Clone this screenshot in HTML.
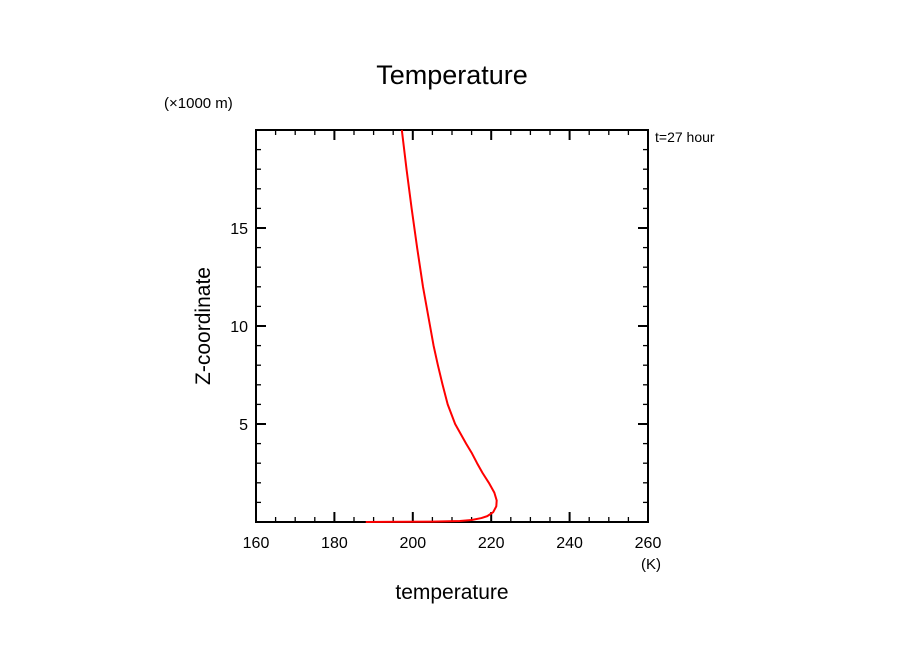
<!DOCTYPE html>
<html><head><meta charset="utf-8"><style>
html,body{margin:0;padding:0;background:#fff;}
svg{display:block;font-family:"Liberation Sans","DejaVu Sans",sans-serif;}
</style></head><body>
<svg id="chart" width="904" height="654" viewBox="0 0 904 654" xmlns="http://www.w3.org/2000/svg">
<text x="452" y="84" text-anchor="middle" font-size="27">Temperature</text>
<text x="164" y="108" font-size="15">(×1000 m)</text>
<text x="655" y="142" font-size="14">t=27 hour</text>
<text x="641" y="569" font-size="15">(K)</text>
<text x="452" y="599" text-anchor="middle" font-size="21">temperature</text>
<text transform="translate(210,326) rotate(-90)" text-anchor="middle" font-size="21">Z-coordinate</text>
<g id="axes"></g>
<g id="plot"></g>
</svg>
<script>
const xTicks = [160,180,200,220,240,260];
const yTicks = [5,10,15];
const tempK = [188,205,212,215,217.5,219,220.5,221.3,221.4,220.8,219.4,217.8,216.4,215.1,213.6,210.8,208.9,207.6,206.4,205.3,204.4,202.6,201.1,199.7,198.4,197.2];
const zKm = [0,0.02,0.05,0.1,0.2,0.3,0.5,0.8,1.1,1.5,2,2.5,3,3.5,4,5,6,7,8,9,10,12,14,16,18,20];

const L=256,R=648,T=130,B=522;
const xS=v=>L+(v-160)/100*(R-L);
const yS=v=>B-(v-0)/20*(B-T);
const NS="http://www.w3.org/2000/svg";
const axes=document.getElementById('axes');
function line(x1,y1,x2,y2,w,name){
  const l=document.createElementNS(NS,'line');
  l.setAttribute('x1',x1);l.setAttribute('y1',y1);l.setAttribute('x2',x2);l.setAttribute('y2',y2);
  l.setAttribute('stroke','#000');l.setAttribute('stroke-width',w);
  
  
  axes.appendChild(l);
}
function text(x,y,s,anchor,name){
  const t=document.createElementNS(NS,'text');
  t.setAttribute('x',x);t.setAttribute('y',y);t.setAttribute('text-anchor',anchor);t.setAttribute('font-size','16');
  t.textContent=s;
  
  
  axes.appendChild(t);
}
const fr=document.createElementNS(NS,'rect');
fr.setAttribute('x',L);fr.setAttribute('y',T);fr.setAttribute('width',R-L);fr.setAttribute('height',B-T);
fr.setAttribute('fill','none');fr.setAttribute('stroke','#000');fr.setAttribute('stroke-width','2');


axes.appendChild(fr);
for(let v=160;v<=260;v+=5){
  const x=xS(v);const major=(v%20===0);const len=major?10:5;
  line(x,B,x,B-len,major?2:1.3,'x-tick');
  line(x,T,x,T+len,major?2:1.3,'x-tick-top');
}
for(let v=0;v<=20;v+=1){
  const y=yS(v);const major=(v%5===0);const len=major?10:5;
  line(L,y,L+len,y,major?2:1.3,'y-tick');
  line(R,y,R-len,y,major?2:1.3,'y-tick-right');
}
xTicks.forEach(v=>text(xS(v),548,String(v),'middle','x-tick-label'));
yTicks.forEach(v=>text(L-8,yS(v)+6,String(v),'end','y-tick-label'));
const p=document.createElementNS(NS,'polyline');
p.setAttribute('points',tempK.map((t,i)=>xS(t)+','+yS(zKm[i])).join(' '));
p.setAttribute('fill','none');p.setAttribute('stroke','#f00');p.setAttribute('stroke-width','2');
p.setAttribute('stroke-linejoin','round');


document.getElementById('plot').appendChild(p);
</script>
</body></html>
